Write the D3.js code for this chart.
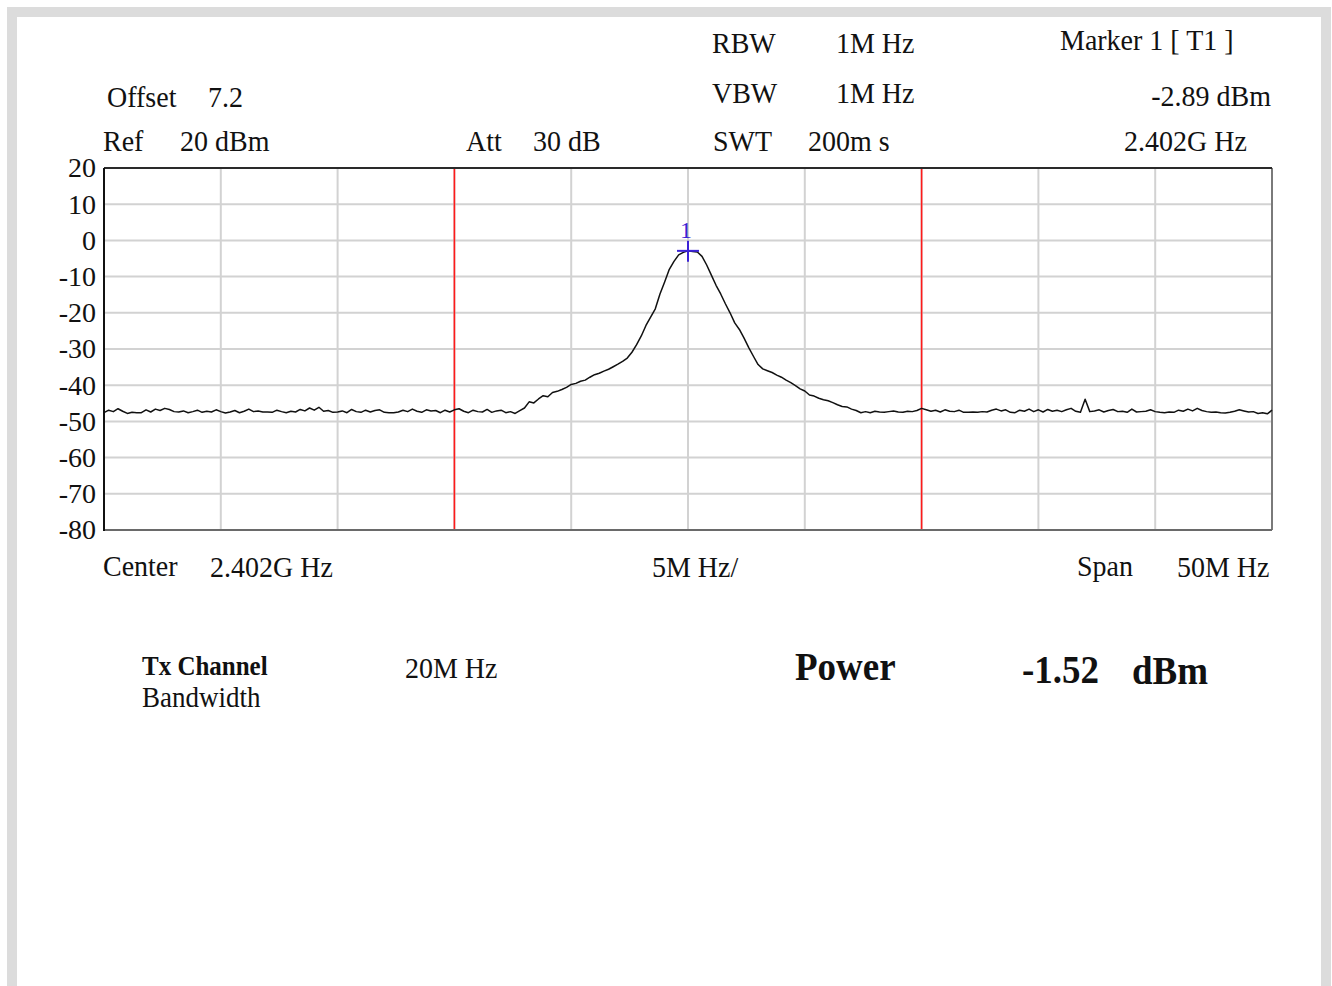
<!DOCTYPE html>
<html>
<head>
<meta charset="utf-8">
<script src="https://cdn.jsdelivr.net/npm/d3@7"></script>
<style>
  html, body { margin: 0; padding: 0; background: #ffffff; }
  svg { display: block; }
  text { font-family: "Liberation Serif", "Times New Roman", serif; fill: #111; }
</style>
</head>
<body>
<svg id="chart" width="1332" height="986"></svg>
<script>
// ---------------- data ----------------
const yTickLabels = [20, 10, 0, -10, -20, -30, -40, -50, -60, -70, -80];
const xGridOffsetsMHz = [-25, -20, -15, -10, -5, 0, 5, 10, 15, 20, 25];
const channelEdgesMHz = [-10, 10];
const traceStartMHz = -25;
const traceStepMHz = 0.2;

// trace level (dBm), left noise floor  (-25.0 .. -7.4 MHz)
const traceLeftNoise = [
  -47.6,-46.9,-47.3,-46.5,-47.2,-47.8,-47.5,-47.6,-47.6,-46.8,
  -47.4,-46.6,-47.0,-46.4,-46.7,-47.3,-47.4,-47.1,-47.6,-47.3,
  -46.9,-47.5,-47.2,-47.4,-46.8,-47.3,-47.7,-47.4,-47.0,-47.6,
  -47.2,-46.6,-47.3,-47.1,-47.4,-47.4,-47.5,-46.9,-47.3,-47.6,
  -47.2,-47.4,-46.7,-47.1,-46.3,-46.9,-46.1,-47.2,-47.0,-47.5,
  -47.4,-47.1,-47.6,-46.7,-47.3,-47.5,-46.9,-47.4,-47.0,-46.8,
  -47.5,-47.6,-47.6,-47.4,-46.9,-47.3,-46.6,-47.2,-47.5,-46.8,
  -47.1,-47.0,-47.6,-46.9,-47.4,-46.8,-46.5,-47.2,-47.6,-46.9,
  -47.3,-47.4,-46.7,-47.5,-47.1,-46.9,-47.6,-47.3,-47.8
];
// signal (-7.2 .. 7.4 MHz)
const traceSignal = [
  -47.0,-46.3,-44.6,-44.9,-43.8,-42.9,-43.2,-42.0,-41.7,-41.2,
  -40.6,-39.8,-39.5,-38.9,-38.6,-37.8,-37.1,-36.7,-36.1,-35.6,
  -34.9,-34.2,-33.4,-32.5,-30.9,-28.8,-26.4,-23.5,-21.2,-18.9,
  -14.8,-11.5,-8.0,-5.8,-4.0,-3.3,-2.89,-3.1,-3.2,-4.4,
  -6.8,-9.6,-12.4,-14.8,-17.5,-20.0,-22.8,-24.6,-27.0,-29.6,
  -32.0,-34.3,-35.5,-36.0,-36.5,-37.2,-37.8,-38.6,-39.3,-40.1,
  -41.0,-41.6,-42.7,-43.0,-43.6,-44.0,-44.3,-44.8,-45.4,-45.9,
  -46.0,-46.6,-47.0,-47.6
];
// right noise floor (7.6 .. 25.0 MHz)
const traceRightNoise = [
  -47.3,-47.6,-47.2,-47.4,-47.5,-47.3,-47.1,-47.4,-47.5,-47.2,
  -47.3,-47.0,-46.4,-46.8,-47.2,-46.9,-47.4,-46.8,-47.2,-47.3,
  -46.9,-47.5,-47.5,-47.4,-47.5,-47.3,-47.4,-46.9,-46.6,-47.1,
  -46.8,-47.5,-47.6,-46.9,-47.2,-46.6,-47.3,-46.8,-47.4,-46.7,
  -47.2,-46.9,-47.3,-46.8,-46.4,-47.2,-47.5,-43.9,-47.3,-47.1,
  -46.8,-47.4,-47.0,-46.7,-47.3,-47.2,-47.5,-46.6,-47.4,-47.3,
  -47.2,-46.8,-47.3,-47.5,-47.6,-47.4,-47.5,-46.9,-47.2,-46.6,
  -47.1,-46.4,-47.0,-47.3,-47.5,-47.4,-47.6,-47.7,-47.5,-47.2,
  -46.8,-47.1,-47.4,-47.3,-47.8,-47.6,-47.9,-46.9
];
const markerOffsetMHz = 0;
const markerLevel = -2.89;

// ---------------- layout ----------------
const svg = d3.select("#chart");
const plot = { left: 104, right: 1272, top: 168, bottom: 530 };

const x = d3.scaleLinear().domain([-25, 25]).range([plot.left, plot.right]);
const y = d3.scaleLinear().domain([-80, 20]).range([plot.bottom, plot.top]);

// outer frame
svg.append("rect").attr("x", 7).attr("y", 7).attr("width", 1324).attr("height", 990).attr("fill", "#dcdcdc");
svg.append("rect").attr("x", 17).attr("y", 17).attr("width", 1304).attr("height", 990).attr("fill", "#ffffff");

// grid
const g = svg.append("g");
g.selectAll("line.hgrid").data(yTickLabels).enter().append("line")
  .attr("x1", plot.left).attr("x2", plot.right)
  .attr("y1", d => y(d)).attr("y2", d => y(d))
  .attr("stroke", "#d2d2d2").attr("stroke-width", 2);
g.selectAll("line.vgrid").data(xGridOffsetsMHz).enter().append("line")
  .attr("y1", plot.top).attr("y2", plot.bottom)
  .attr("x1", d => x(d)).attr("x2", d => x(d))
  .attr("stroke", "#d2d2d2").attr("stroke-width", 2);

// channel edges
g.selectAll("line.chan").data(channelEdgesMHz).enter().append("line")
  .attr("y1", plot.top).attr("y2", plot.bottom)
  .attr("x1", d => x(d)).attr("x2", d => x(d))
  .attr("stroke", "#ff1a1a").attr("stroke-width", 1.6);

// frame of plot
svg.append("line").attr("x1", plot.right).attr("x2", plot.right).attr("y1", plot.top).attr("y2", plot.bottom).attr("stroke", "#7a7a7a").attr("stroke-width", 2);
svg.append("line").attr("x1", plot.left).attr("x2", plot.right).attr("y1", plot.bottom).attr("y2", plot.bottom).attr("stroke", "#6a6a6a").attr("stroke-width", 2);
svg.append("line").attr("x1", plot.left).attr("x2", plot.right).attr("y1", plot.top).attr("y2", plot.top).attr("stroke", "#2a2a2a").attr("stroke-width", 2);
svg.append("line").attr("x1", plot.left).attr("x2", plot.left).attr("y1", plot.top).attr("y2", plot.bottom + 1).attr("stroke", "#111").attr("stroke-width", 2);

// trace
const trace = traceLeftNoise.concat(traceSignal, traceRightNoise);
const line = d3.line()
  .x((d, i) => x(traceStartMHz + i * traceStepMHz))
  .y(d => y(d));
svg.append("path").datum(trace).attr("d", line)
  .attr("fill", "none").attr("stroke", "#111").attr("stroke-width", 1.5).attr("stroke-linejoin", "round");

// y axis labels
const yAxis = d3.axisLeft(y).tickValues(yTickLabels).tickSize(0).tickPadding(0)
  .tickFormat(d => String(d));
const ya = svg.append("g").attr("transform", `translate(${plot.left - 8},0)`).call(yAxis);
ya.select(".domain").remove();
ya.selectAll("text")
  .attr("font-family", "Liberation Serif, Times New Roman, serif")
  .attr("font-size", 28).attr("fill", "#111")
  .attr("dy", "0.32em");

// marker
const mx = x(markerOffsetMHz), my = y(markerLevel);
const markerColor = "#3b22d6";
svg.append("line").attr("x1", mx - 11).attr("x2", mx + 11).attr("y1", my).attr("y2", my).attr("stroke", markerColor).attr("stroke-width", 2);
svg.append("line").attr("x1", mx).attr("x2", mx).attr("y1", my - 10).attr("y2", my + 11).attr("stroke", markerColor).attr("stroke-width", 2);
svg.append("text").attr("x", mx - 2).attr("y", my - 13).attr("text-anchor", "middle")
  .attr("font-size", 24).style("fill", markerColor).text("1");

// text helper
function txt(xp, yp, s, size, opts = {}) {
  const t = svg.append("text")
    .attr("transform", `translate(${xp},${yp}) scale(1,1.08)`)
    .attr("font-size", size)
    .attr("text-anchor", opts.anchor || "start")
    .attr("font-weight", opts.bold ? "bold" : "normal")
    .text(s);
  return t;
}

// header
txt(712, 53, "RBW", 28);   txt(836, 53, "1M Hz", 28);
txt(712, 103, "VBW", 28);  txt(836, 103, "1M Hz", 28);
txt(713, 151, "SWT", 28);  txt(808, 151, "200m s", 28);
txt(107, 107, "Offset", 28); txt(208, 107, "7.2", 28);
txt(103, 151, "Ref", 28);  txt(180, 151, "20 dBm", 28);
txt(466, 151, "Att", 28);  txt(533, 151, "30 dB", 28);
txt(1060, 50, "Marker 1 [ T1 ]", 28);
txt(1271, 106, "-2.89 dBm", 28, { anchor: "end" });
txt(1124, 151, "2.402G Hz", 28);

// footer of plot
txt(103, 576, "Center", 28); txt(210, 577, "2.402G Hz", 28);
txt(652, 577, "5M Hz/", 28);
txt(1077, 576, "Span", 28);  txt(1177, 577, "50M Hz", 28);

// channel power block
txt(142, 675, "Tx Channel", 25, { bold: true });
txt(142, 707, "Bandwidth", 27);
txt(405, 678, "20M Hz", 28);
txt(795, 680, "Power", 37, { bold: true });
txt(1022, 683, "-1.52", 37, { bold: true });
txt(1132, 684, "dBm", 37, { bold: true });
</script>
</body>
</html>
